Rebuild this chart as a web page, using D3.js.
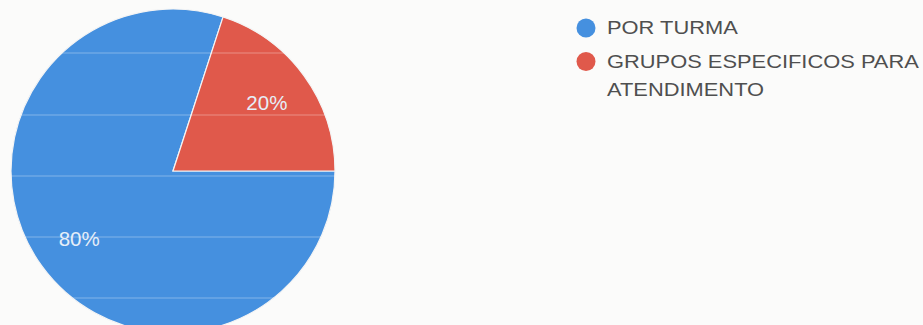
<!DOCTYPE html>
<html lang="pt">
<head>
  <meta charset="UTF-8" />
  <title>Atendimento</title>
  <script src="https://d3js.org/d3.v7.min.js"></script>
  <style>
    body { margin:0; padding:0; background:#fbfbfa; font-family:"Liberation Sans", Arial, sans-serif; }
    svg { display:block; }
    .lbl { font-size:20.5px; fill:#e6eef8; }
    .leg { font-size:17.5px; fill:#4f4f4f; }
  </style>
</head>
<body>
  <svg width="923" height="325"></svg>
  <script>
  // data
  const categories = ["POR TURMA", "GRUPOS ESPECIFICOS PARA ATENDIMENTO"];
  const values     = [80, 20];
  const colors     = ["#4590df", "#e0594b"];
  // legend lines (long label wraps)
  const legendLines = [["POR TURMA"], ["GRUPOS ESPECIFICOS PARA", "ATENDIMENTO"]];

  const svg = d3.select("svg");
  const cx = 173, cy = 171, R = 162;

  const pie = d3.pie().sort(null)
    .startAngle(Math.PI / 2)
    .endAngle(Math.PI / 2 + 2 * Math.PI)
    .value(d => d.v);
  const arcs = pie(categories.map((c, i) => ({ c, v: values[i], col: colors[i] })));
  const arc = d3.arc().innerRadius(0).outerRadius(R);
  const labelArc = d3.arc().innerRadius(R * 0.716).outerRadius(R * 0.716);

  svg.append("clipPath").attr("id", "pieclip")
    .append("circle").attr("cx", cx).attr("cy", cy).attr("r", R);

  const g = svg.append("g").attr("transform", `translate(${cx},${cy})`);

  g.selectAll("path.slice").data(arcs).enter().append("path")
    .attr("class", "slice")
    .attr("d", arc)
    .attr("fill", d => d.data.col)
    .attr("stroke", "#f4f4f4")
    .attr("stroke-width", 1.2);

  // faint scan lines visible across the pie
  const scanY = [53, 115, 176, 237, 298];
  svg.append("g").attr("clip-path", "url(#pieclip)")
    .selectAll("line").data(scanY).enter().append("line")
    .attr("x1", 0).attr("x2", 340)
    .attr("y1", d => d).attr("y2", d => d)
    .attr("stroke", "#ffffff").attr("stroke-opacity", 0.22).attr("stroke-width", 1.5);

  g.selectAll("text.lbl").data(arcs).enter().append("text")
    .attr("class", "lbl")
    .attr("text-anchor", "middle")
    .attr("dy", "0.35em")
    .attr("transform", d => `translate(${labelArc.centroid(d)})`)
    .text(d => Math.round(d.value) + "%");

  // legend
  const leg = svg.append("g").attr("transform", "translate(586,28)");
  const rowY = [0, 33.5];
  const item = leg.selectAll("g.item").data(categories).enter().append("g")
    .attr("class", "item")
    .attr("transform", (d, i) => `translate(0,${rowY[i]})`);
  item.append("circle").attr("r", 9.5).attr("fill", (d, i) => colors[i]);
  item.each(function(d, i) {
    const t = d3.select(this).append("text").attr("class", "leg")
      .attr("transform", "translate(21,0) scale(1.25,1)");
    legendLines[i].forEach((ln, j) => {
      t.append("tspan").attr("x", 0).attr("y", 6.3 + j * 28).text(ln);
    });
  });
  </script>
</body>
</html>
